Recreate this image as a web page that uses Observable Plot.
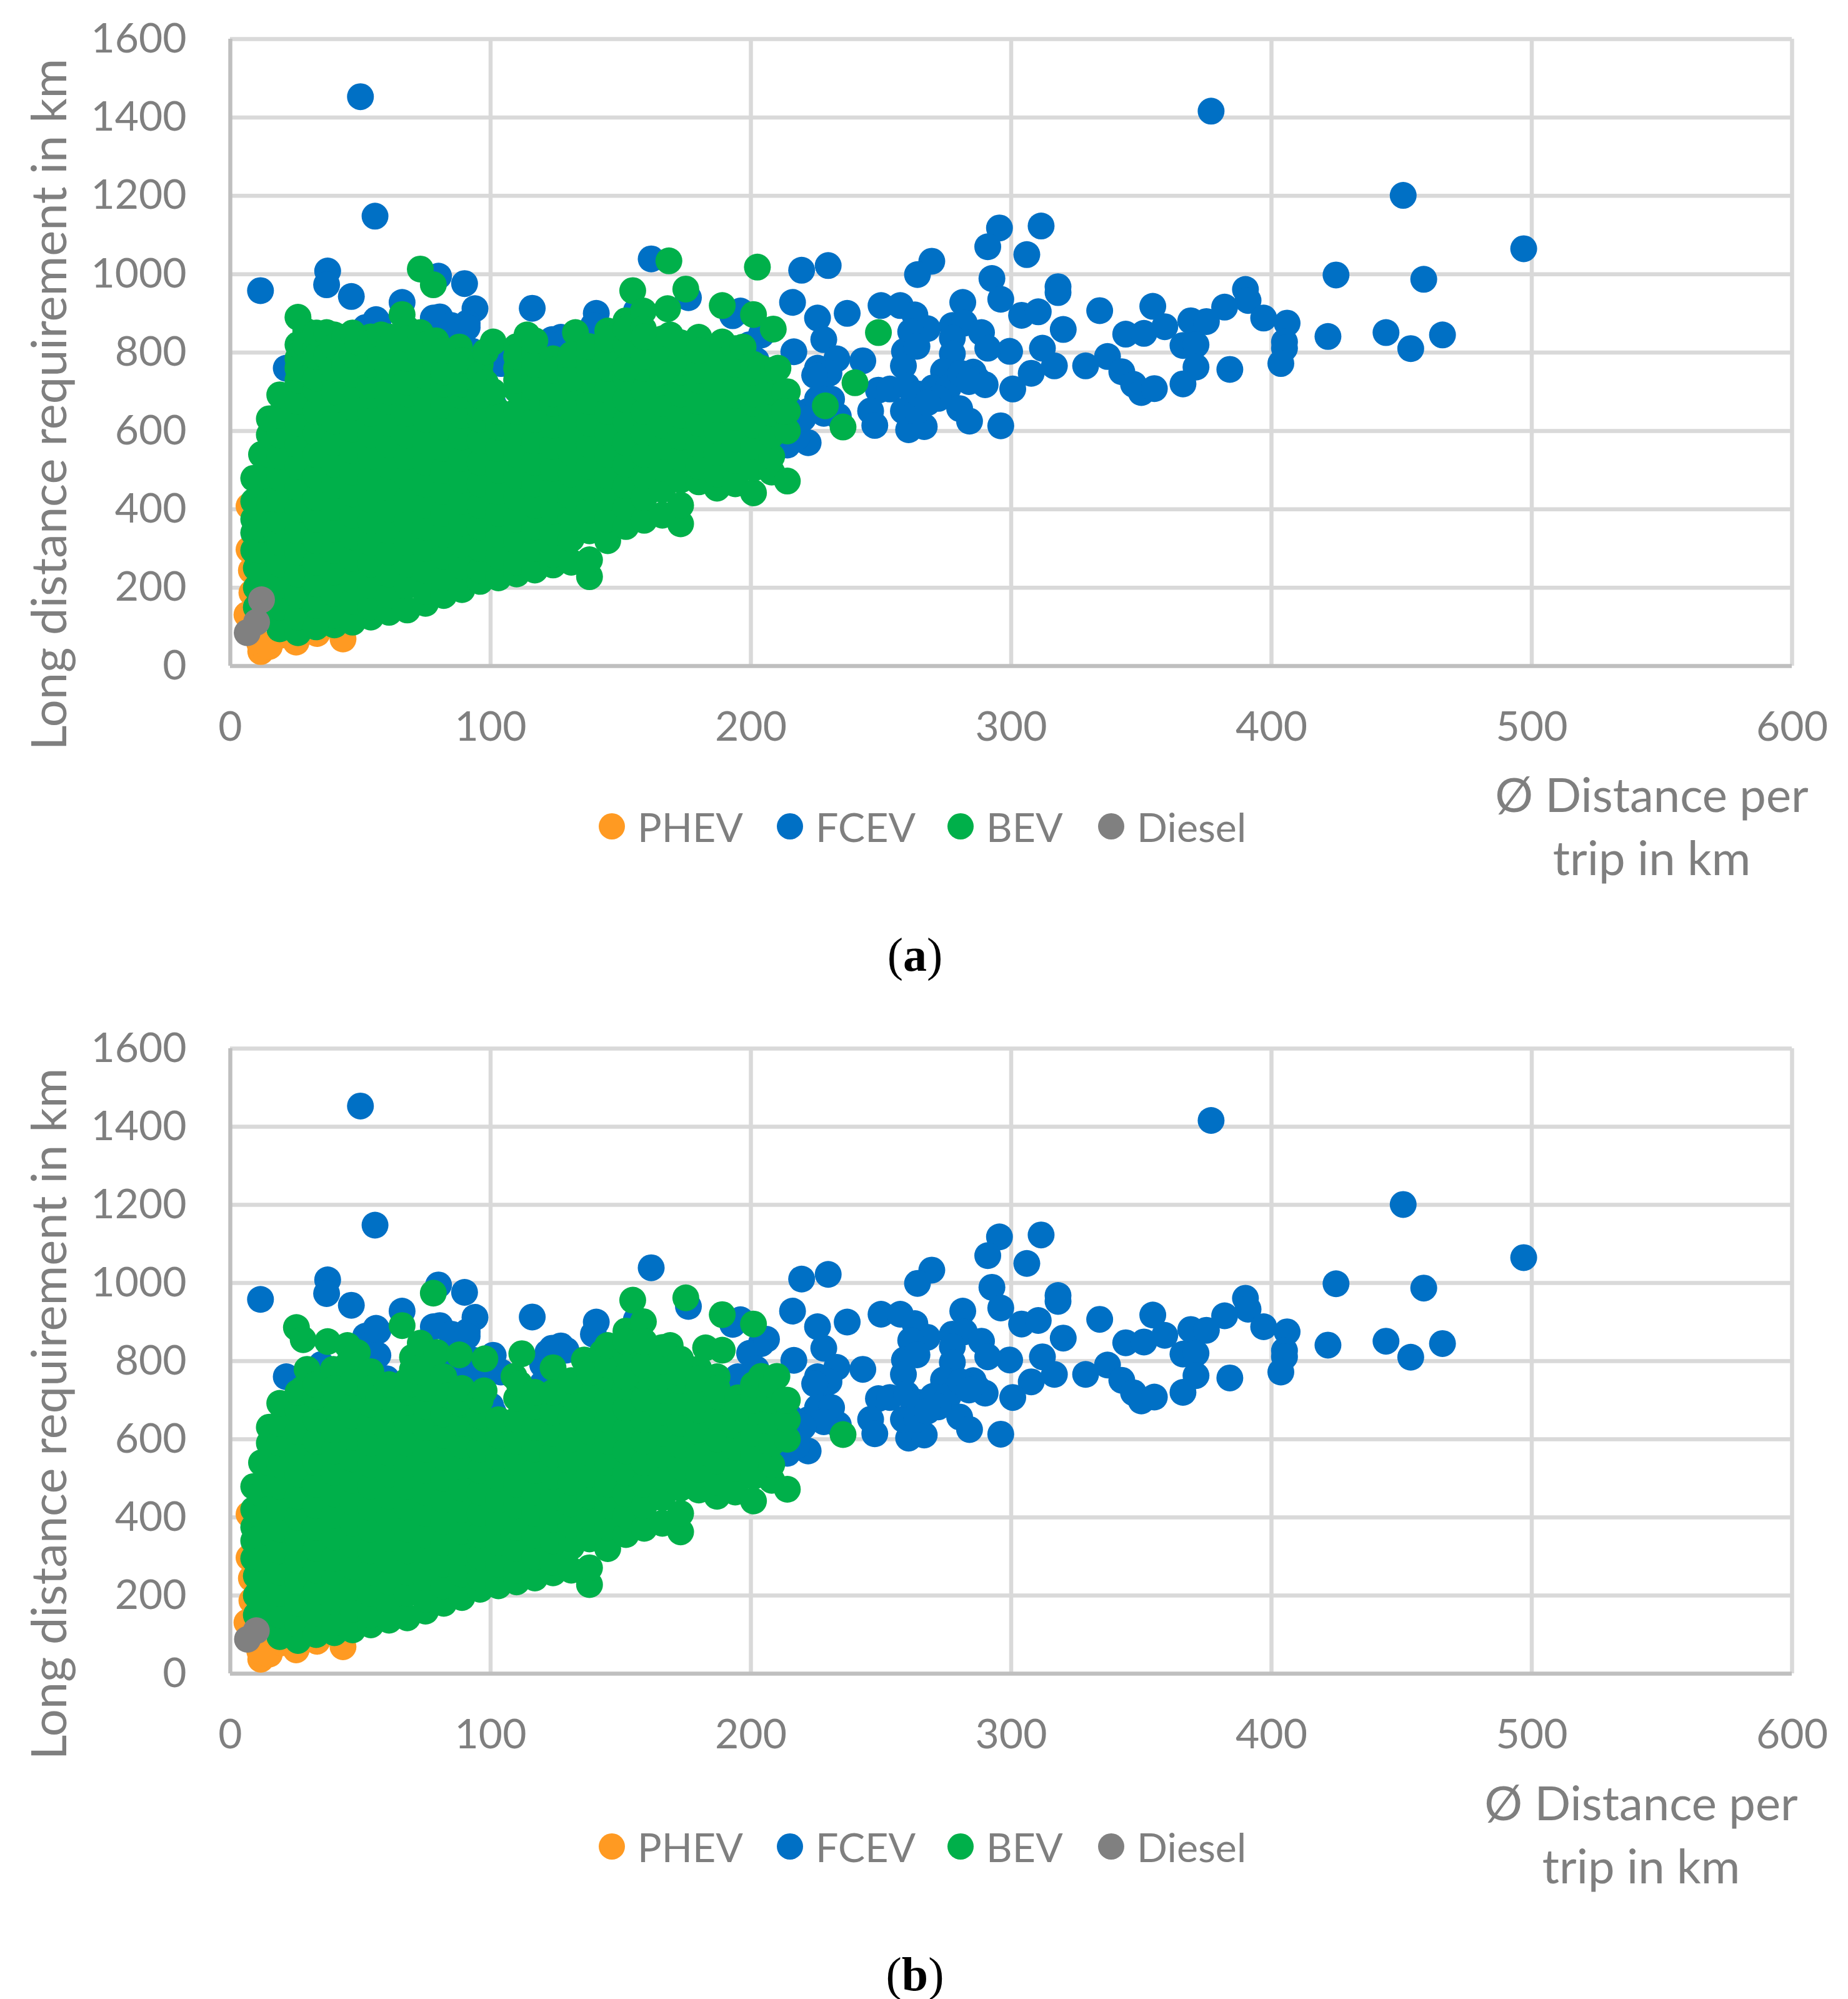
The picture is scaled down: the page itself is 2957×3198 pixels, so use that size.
<!DOCTYPE html>
<html><head><meta charset="utf-8">
<script src="https://cdn.jsdelivr.net/npm/d3@7"></script>
<script src="https://cdn.jsdelivr.net/npm/@observablehq/plot@0.6"></script>
<style>
html,body{margin:0;background:#fff}
#page{position:relative;width:2957px;height:3198px;overflow:hidden;font-family:Lato,sans-serif;color:#7f7f7f}
.panel{position:absolute;left:0;width:2957px}
.panel svg{position:absolute;left:0;top:0;display:block;overflow:visible}
.ylab{position:absolute;font-size:77.5px;white-space:nowrap;transform:translate(-50%,-50%) rotate(-90deg)}
.xlab{position:absolute;font-size:76px;line-height:101px;text-align:center;transform:translate(-50%,-50%);white-space:nowrap}
.leg{position:absolute;font-size:64.5px;line-height:64px;transform:translateY(-50%);white-space:nowrap}
.dot{position:absolute;width:42px;height:42px;border-radius:50%;transform:translate(-50%,-50%)}
.cap{position:absolute;font:76px "Liberation Serif",serif;color:#000;transform:translate(-50%,-50%)}
.cap b{font-weight:700}
</style></head><body><div id="page"></div>
<script>
const seriesNames = ["PHEV","FCEV","BEV","Diesel"];
const seriesColors = ["#ff9a22","#0070c5","#00b04a","#808080"];
const xTicks = [0,100,200,300,400,500,600];
const yTicks = [0,200,400,600,800,1000,1200,1400,1600];

const phev = [[7.2,408],[7.2,297],[8.1,244],[8.3,187],[6.4,131],[11.7,37],[11.3,58],[15,50],[19.7,79],[25.3,61],[33.3,83],[43.3,69]];

const fcev = [[50,1453],[55.6,1148],[11.6,958],[37.4,1008],[37,973],[46.5,943],[80,995],[90,976],[66,928],[56,884],[53,851],[78,888],[80.5,891],[94,912],[91,875],[85,869],[116,913],[140.6,900],[139.5,869],[161.7,1039],[156,906],[176,940],[219.5,1010],[229.7,1022],[216,928],[225.6,888],[237,900],[228,833],[216.5,802],[233,784],[243,779],[225.6,760],[233.6,637],[228.7,686],[222,650],[230,747],[222,570],[214,564],[193,894],[196,906],[204,845],[199.5,820],[21.5,760],[20.4,686],[123.6,833],[127,839],[100,784],[100,686],[104,772],
[376.8,1416],[450.6,1201],[496.9,1065],[424.8,998],[458.5,987],[295.5,1118],[311.5,1123],[291,1070],[306,1050],[269.5,1033],[264,999],[292.6,989],[318,968],[318,953],[296,936],[281.4,928],[304,895],[310.4,904],[334,907],[354.4,918],[390,961],[391,933],[382,916],[397,888],[406,875],[369,881],[375,879],[359,866],[320,859],[344,847],[351,849],[421.7,841],[444,851],[465.7,845],[453.5,810],[405,827],[405,811],[403.6,772],[366,818],[371,820],[371,763],[384,757],[366,720],[337,790],[328.6,766],[316.6,766],[312,811],[299.4,803],[307.7,747],[300.6,707],[342.5,751],[347,719],[350,698],[355,708],[296,613],
[250,920],[257.4,920],[263,896],[267.8,861],[261.4,853],[259,803],[258.6,766],[263.8,816],[277.4,869],[282,875],[288.6,851],[277.4,837],[277.4,797],[291,811],[249,704],[253.4,707],[246,651],[247.6,614],[260.6,603],[266.6,611],[258.6,651],[263.8,651],[259.8,715],[264.6,694],[274,752],[270,710],[275.8,710],[285.4,750],[280.6,747],[287,731],[290,718],[283.8,726],[280.2,657],[284,625],[272,683],[267.8,672],
[186,754],[191.6,724],[206,856],[211,645],[215,657],[206,645],[217.7,584],[224.5,742],[225.6,681],[231,681],[228,645],[220,632],[35,791],[52,864],[56.7,877],[56.7,815],[60,755],[84,791],[91,864],[93,803],[93,742],[101,815],[95,681],[101,669],[88,767],[129,828],[122,822],[120,742],[115.6,681],[127,730],[127,669],[120,791],[202,780],[195,760]];

// BEV: y values read column by column, shared by both panels
const bevCore = [
[9,[375,295,479,420,340]],[10,[150,200,250]],[12,[130,185,240,295,350,405,460,540]],
[15,[480,540,590,631,420,360]],
[19,[95,150,205,260,315,370,425,480,535,590,640,692]],
[26,[85,125,180,235,290,345,400,455,510,565,620,675]],
[33,[100,155,210,265,320,375,430,485,540,595,650]],
[40,[105,130,185,240,295,350,405,460,515,570,625,680]],
[47,[112,165,220,275,330,385,440,495,550,605,660]],
[54,[125,150,205,260,315,370,425,480,535,590,645,690]],
[61,[137,180,235,290,345,400,455,510,565,620,675]],
[68,[143,205,260,315,370,425,480,535,590,645,695]],
[75,[160,190,245,300,355,410,465,520,575,630,685]],
[82,[180,225,280,335,390,445,500,555,610,665]],
[89,[195,255,310,365,420,475,530,585,640,690]],
[96,[216,245,300,355,410,465,520,575,630,660]],
[103,[225,280,335,390,445,500,555,610,650]],
[110,[235,265,320,375,430,485,540,595,650,705]],
[117,[245,300,355,410,465,520,575,630,685]],
[124,[258,285,340,395,450,505,560,615,670]],
[131,[265,325,380,435,490,545,600,655,710]],
[138,[228,271,345,400,455,510,565,620,675,730]],
[145,[320,375,430,485,540,595,650,705,760]],
[152,[356,405,460,515,570,625,680,735,790]],
[159,[372,430,485,540,595,650,705,760,815]],
[166,[385,450,505,560,615,670,725,780]],
[173,[363,410,475,530,585,640,695,750,800]],
[180,[470,510,565,620,675,730,780]],
[187,[454,490,545,600,655,710,760]],
[194,[465,525,580,635,690]],
[201,[442,505,560,615,670]],
[208,[495,535,590,645,700]],
[214,[472,600,650,700]]];

const bevTopA = [
[26,[730,785,890,760,820]],[29,[855,820]],[33,[705,760,815,735,790,850]],[37,[851,790]],[40,[735,845,700,760,815]],[44,[839,770]],[47,[715,825,745,795,850]],[49,[827]],[54,[745,800,840,715,770,825]],[58,[845,785]],[61,[730,840,700,760,815]],[66,[897,810]],[68,[755,860,725,785,835]],[73,[851,1013,795]],[75,[740,770,820]],[78,[973]],[79,[830,775]],[82,[720,750,805]],[88,[814,750]],[89,[720,780]],[96,[715,770,690,745]],[98,[802,723]],[101,[827,700]],[110,[760,815,730,790]],[114,[845]],[117,[740,800,710,770,830]],[124,[784,725,695,755]],[132.6,[851]],[131,[765,735,795]],[138,[785,755,815]],[145,[815,855,785,835]],[152,[881,760,820,860]],[154.6,[958]],[158.7,[906,860]],[159,[790,840]],[166,[835,750,810]],[168,[912]],[168.5,[1034]],[169,[845]],[173,[775,825]],[175,[962]],[180,[839,755,805]],[187,[735,790]],[189,[920,827,780]],[194,[740,810,710,770]],[197,[814]],[201,[897,725,770,695,750]],[202.5,[1018]],[204,[760]],[208,[725]],[208.6,[860,755]],[210.4,[760]],[213,[698,650]],[228.6,[664]],[235.4,[610]],[240,[723]],[249,[851]]];

const bevTopB = [
[25.4,[886]],[26,[720]],[28,[730,855]],[29.5,[779]],[33,[710,740]],[37.4,[850]],[39.6,[779]],[40,[730]],[45,[840,791]],[47,[710,745]],[48.8,[822]],[54,[773,730]],[57,[706]],[61,[706,740]],[66,[891]],[68,[720,750]],[70,[742,779,810]],[73,[846]],[75,[730,770]],[78,[974]],[79.4,[822]],[82,[725,760]],[84,[712]],[88,[816,694]],[89,[730]],[96,[700]],[97.8,[806]],[97.5,[724]],[109,[761]],[111,[742]],[112,[819]],[117,[720]],[124,[783,720]],[131,[750]],[136,[803]],[138,[770]],[143,[822]],[145,[790,840]],[152,[877,760,820,850]],[154.6,[956]],[158.7,[901]],[159,[790,850]],[166,[835,760,800]],[169,[840]],[173,[805,770]],[175,[962]],[180,[755]],[182.6,[834]],[187,[730]],[189,[919,828]],[194,[650]],[195,[706,681]],[201,[895,700,740]],[204,[761]],[208,[740]],[210,[761]],[213,[700]],[235.4,[612]]];

const dieselA = [[12,169],[10.1,112],[6.5,85]];
const dieselB = [[6.6,88],[10,110]];

const rowsOf = (name, pairs) => pairs.map(([x,y]) => ({x,y,series:name}));
const rowsOfColumns = (name, cols) => cols.flatMap(([x,ys]) => ys.map(y => ({x,y,series:name})));

function chart(bevTop, diesel, plotH){
  const table = [
    ...rowsOf("PHEV",phev),
    ...rowsOf("FCEV",fcev),
    ...rowsOfColumns("BEV",bevCore),
    ...rowsOfColumns("BEV",bevTop),
    ...rowsOf("Diesel",diesel)
  ];
  return Plot.plot({
    width:2957, height:62+plotH+140,
    marginLeft:368, marginRight:90, marginTop:62, marginBottom:140,
    style:{background:"transparent",fontFamily:"Lato,sans-serif",fontSize:"66px",color:"#7f7f7f",overflow:"visible"},
    x:{domain:[0,600]}, y:{domain:[0,1600]},
    color:{domain:seriesNames,range:seriesColors},
    marks:[
      Plot.ruleX(xTicks.slice(1),{stroke:"#d9d9d9",strokeWidth:6.5}),
      Plot.ruleY(yTicks.slice(1),{stroke:"#d9d9d9",strokeWidth:6.5}),
      Plot.ruleX([0],{stroke:"#bfbfbf",strokeWidth:6.5}),
      Plot.ruleY([0],{stroke:"#bfbfbf",strokeWidth:6.5}),
      Plot.axisX({ticks:xTicks,tickSize:0,tickPadding:73,tickFormat:"d",label:null,fill:"#7f7f7f",fontSize:66}),
      Plot.axisY({ticks:yTicks,tickSize:0,tickPadding:70,tickFormat:"d",label:null,fill:"#7f7f7f",fontSize:66}),
      Plot.dot(table,{x:"x",y:"y",fill:"series",r:21.5})
    ]
  });
}

const legendDots = [979,1264,1537,1778];
const legendText = [1020,1305,1578,1819];
function addPanel(top,svg,o){
  const p=document.createElement("div");p.className="panel";p.style.top=top+"px";
  p.appendChild(svg);
  const y=document.createElement("div");y.className="ylab";y.textContent="Long distance requirement in km";
  y.style.left="76px";y.style.top=o.yLab+"px";p.appendChild(y);
  const x=document.createElement("div");x.className="xlab";x.innerHTML="Ø Distance per<br>trip in km";
  x.style.left=o.xLabX+"px";x.style.top=o.xLabY+"px";p.appendChild(x);
  seriesNames.forEach((n,i)=>{
    const d=document.createElement("div");d.className="dot";d.style.background=seriesColors[i];
    d.style.left=legendDots[i]+"px";d.style.top=o.legY+"px";p.appendChild(d);
    const t=document.createElement("div");t.className="leg";t.textContent=n;
    t.style.left=legendText[i]+"px";t.style.top=o.legY+"px";p.appendChild(t);
  });
  const c=document.createElement("div");c.className="cap";c.innerHTML="(<b>"+o.cap+"</b>)";
  c.style.left="1464px";c.style.top=o.capY+"px";p.appendChild(c);
  document.getElementById("page").appendChild(p);
}
addPanel(0,chart(bevTopA,dieselA,1003),{yLab:647,xLabX:2643,xLabY:1320,legY:1322,cap:"a",capY:1527});
addPanel(1615,chart(bevTopB,dieselB,1000),{yLab:647,xLabX:2626,xLabY:1318,legY:1339,cap:"b",capY:1543});
</script></body></html>
